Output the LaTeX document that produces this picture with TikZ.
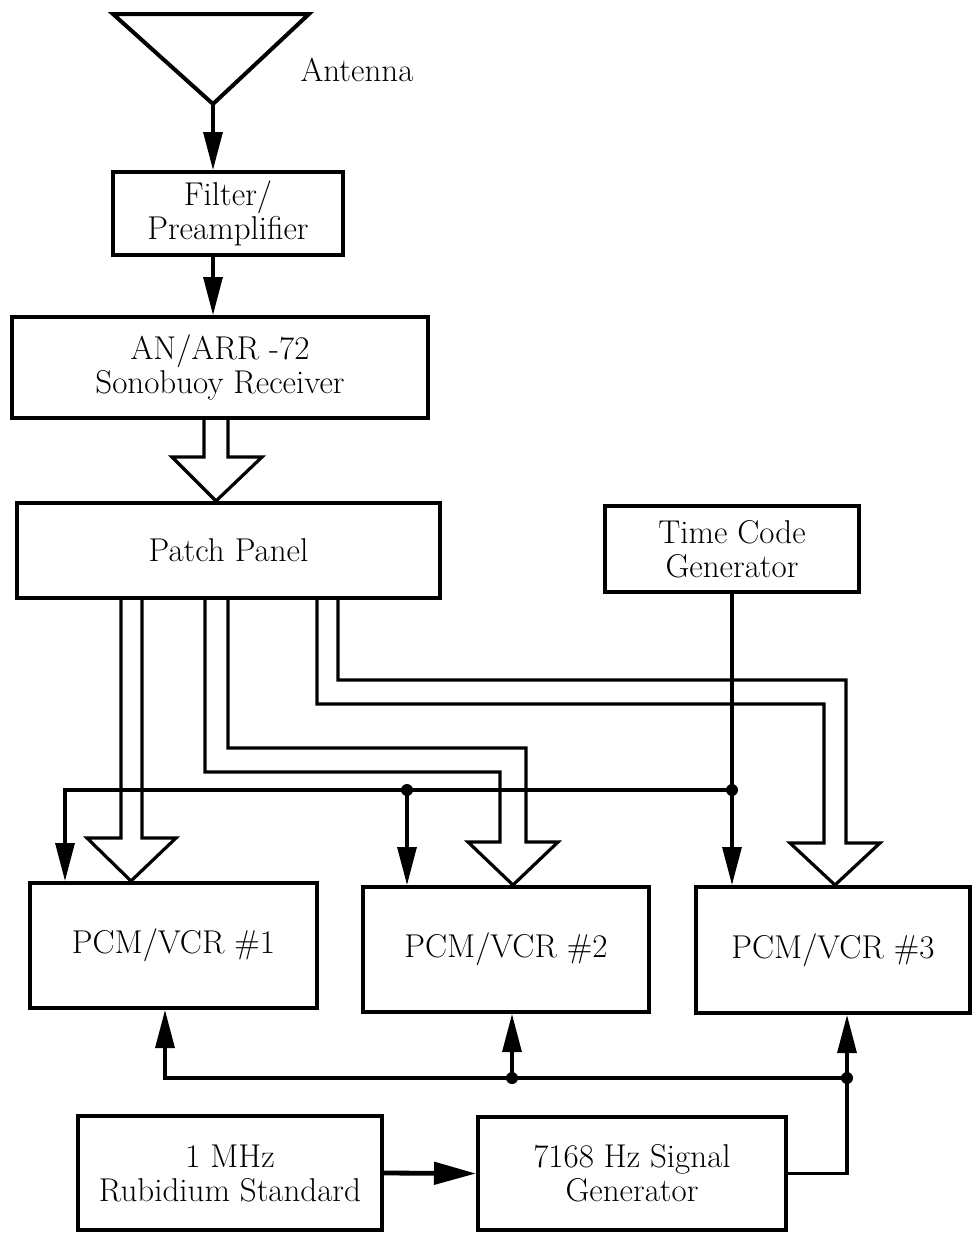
\documentclass[tikz,border=0pt]{standalone}
\usetikzlibrary{arrows.meta}
\begin{document}
\begin{tikzpicture}[x=0.5pt,y=-0.5pt,
  txt/.style={font=\fontsize{16.5}{17}\selectfont, align=center},
  box/.style={txt, draw, line width=2pt, inner sep=0pt},
  wire/.style={line width=1.6pt, line join=miter},
  arr/.style={wire, -{Triangle[length=19pt,width=9.5pt]}},
  hollow/.style={line width=1.6pt, line join=miter},
  dot/.style={circle, fill, inner sep=0pt, minimum size=6pt}]
\useasboundingbox (0,0) rectangle (974,1233);

% antenna
\draw[line width=2pt, line join=miter] (113,14) -- (309,14) -- (213,104) -- cycle;
\coordinate (apex) at (213,104);
\node[txt] (ant) at (357,70) {Antenna};

% boxes
\node[box, minimum width=115pt, minimum height=41.5pt] (filt) at (228,213.5) {Filter/\\Preamplifier};
\node[box, minimum width=208pt, minimum height=50.5pt] (recv) at (220,367.5) {AN/ARR -72\\Sonobuoy Receiver};
\node[box, minimum width=211.5pt, minimum height=47.5pt] (patch) at (228.5,550.5) {Patch Panel};
\node[box, minimum width=127pt, minimum height=43pt] (tcg) at (732,549) {Time Code\\Generator};
\node[box, minimum width=143.5pt, minimum height=62.5pt] (pcm1) at (173.5,945.5) {PCM/VCR \#1};
\node[box, minimum width=143pt, minimum height=62.5pt] (pcm2) at (506,949.5) {PCM/VCR \#2};
\node[box, minimum width=137pt, minimum height=63pt] (pcm3) at (833,950) {PCM/VCR \#3};
\node[box, minimum width=152pt, minimum height=57pt] (rub) at (230,1173) {1 MHz\\Rubidium Standard};
\node[box, minimum width=154pt, minimum height=56.5pt] (sig) at (632,1173.5) {7168 Hz Signal\\Generator};

% simple arrows at top
\draw[arr] (apex) -- (apex |- filt.north);
\draw[arr] (apex |- filt.south) -- (apex |- recv.north);

% hollow arrow receiver -> patch panel
\draw[hollow] (204,0 |- recv.south) -- (204,457) -- (172,457) -- (216,0 |- patch.north)
  -- (262,457) -- (228,457) -- (228,0 |- recv.south);

% hollow arrows patch panel -> recorders
\draw[hollow] (121,0 |- patch.south) -- (121,838) -- (87,838) -- (131,0 |- pcm1.north)
  -- (176,838) -- (142,838) -- (142,0 |- patch.south);
\draw[hollow] (205,0 |- patch.south) -- (205,772) -- (500,772) -- (500,842) -- (468,842)
  -- (513,0 |- pcm2.north) -- (558,842) -- (526,842) -- (526,748) -- (228,748)
  -- (228,0 |- patch.south);
\draw[hollow] (317,0 |- patch.south) -- (317,704) -- (824,704) -- (824,843) -- (790,843)
  -- (835,0 |- pcm3.north) -- (880,843) -- (846,843) -- (846,680) -- (338,680)
  -- (338,0 |- patch.south);

% time code distribution
\coordinate (j3) at (tcg.south |- 0,790);
\coordinate (j2) at (407,790);
\coordinate (j1) at (65,790);
\draw[arr] (tcg.south) -- (tcg.south |- pcm3.north);
\draw[arr] (j3) -- (j1) -- (j1 |- pcm1.north);
\draw[arr] (j2) -- (j2 |- pcm2.north);
\node[dot] at (j2) {};
\node[dot] at (j3) {};

% reference signal distribution
\coordinate (b1) at (165,1078);
\coordinate (b2) at (512,1078);
\coordinate (b3) at (847,1078);
\draw[arr] (b3) -- (b1) -- (b1 |- pcm1.south);
\draw[arr] (b2) -- (b2 |- pcm2.south);
\draw[arr] (b3) -- (b3 |- pcm3.south);
\draw[wire] (sig.east) -| (b3);
\node[dot] at (b2) {};
\node[dot] at (b3) {};
\draw[line width=2.4pt, -{Triangle[length=21pt,width=11pt]}] (rub.east) -- (sig.west);
\end{tikzpicture}
\end{document}
